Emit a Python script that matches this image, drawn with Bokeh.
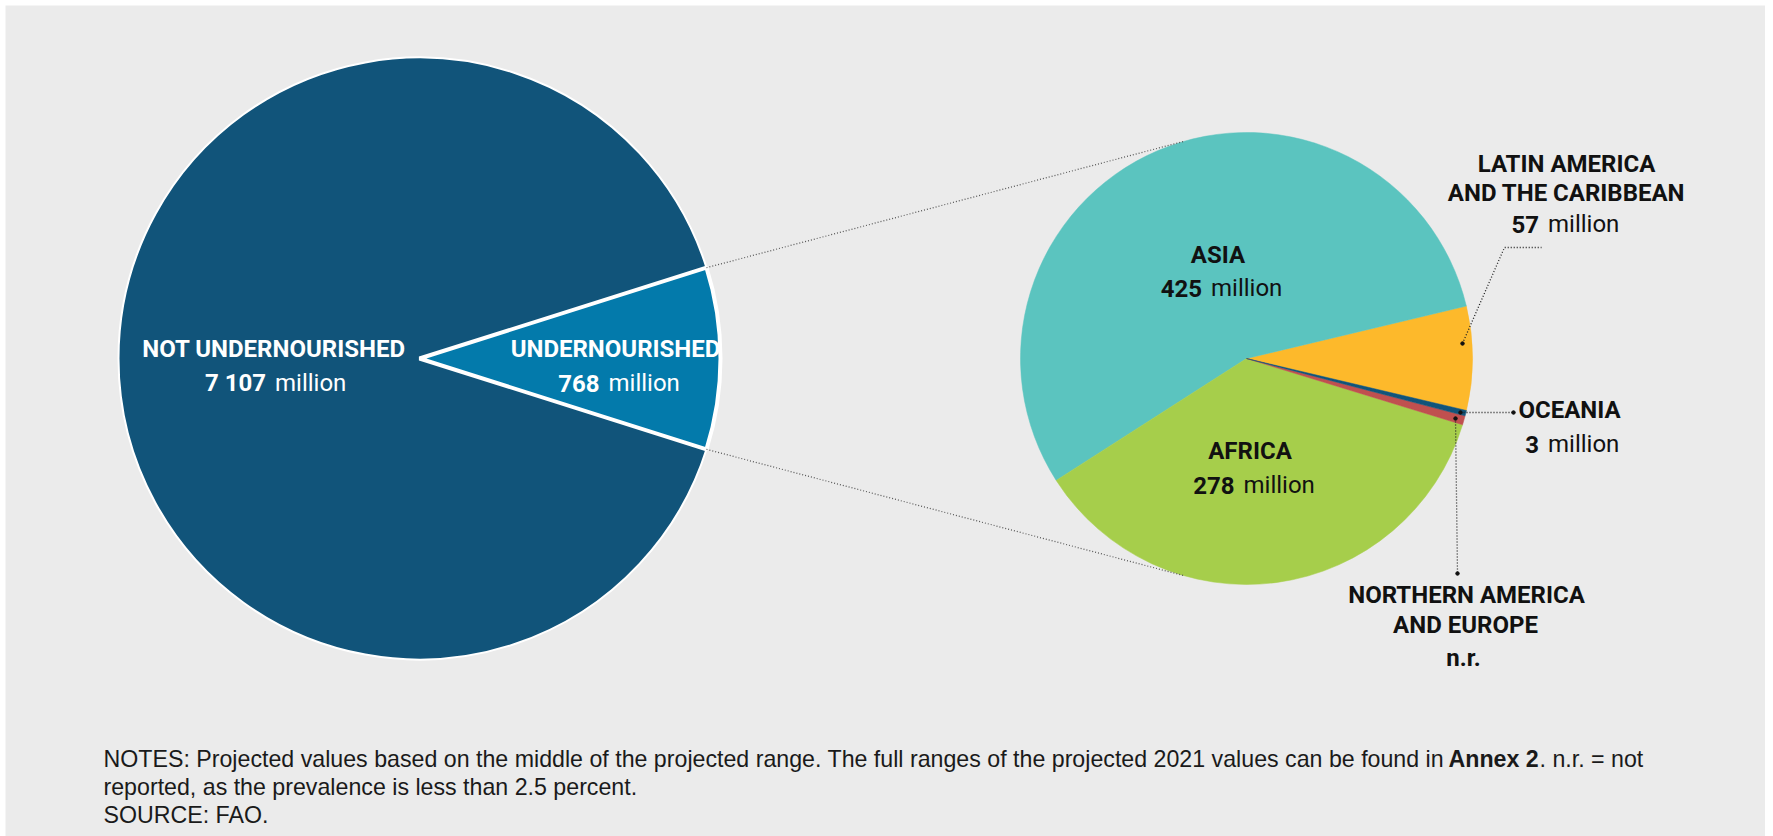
import math
from bokeh.plotting import figure
from bokeh.models import ColumnDataSource, Range1d
from bokeh.core.properties import value
from bokeh.embed import file_html
from bokeh.resources import INLINE

# ---------------- data ----------------
world_labels = ["UNDERNOURISHED", "NOT UNDERNOURISHED"]
world_values = [768, 7107]            # million people
world_colors = ["#037aab", "#11547a"]

region_labels = ["LATIN AMERICA\nAND THE CARIBBEAN", "ASIA", "AFRICA",
                 "NORTHERN AMERICA\nAND EUROPE", "OCEANIA"]
region_values = [57, 425, 278, 5, 3]   # NAE not reported (<2.5%), remainder of 768
region_shown = ["57", "425", "278", None, "3"]
region_colors = ["#fdb92b", "#5bc4bf", "#a6ce4b", "#c0504f", "#11547a"]

notes_lines = [
    "NOTES: Projected values based on the middle of the projected range. The full ranges of the projected 2021 values can be found in",
    "reported, as the prevalence is less than 2.5 percent.",
    "SOURCE: FAO.",
]
notes_bold = "Annex 2"
notes_tail = ". n.r. = not"

# ---------------- layout ----------------
W, H = 1765, 836
ML, MT = 5, 5
BG = "#ebebeb"
COND = "Roboto"
SANS = "Liberation Sans"
TDY = 8.5   # baseline correction for rendered text

p = figure(width=W, height=H, output_backend="svg", toolbar_location=None,
           x_range=Range1d(ML, W), y_range=Range1d(-H, -MT),
           min_border_left=ML, min_border_top=MT, min_border_right=0, min_border_bottom=0,
           background_fill_color=BG, border_fill_color="white",
           outline_line_color=None)
p.axis.visible = False
p.grid.visible = False

def Y(v):
    return -v

def TY(v):
    return -(v - TDY)

# left pie
LC = (419, 358)
LR = 301
tot = sum(world_values)
half = world_values[0] / tot * math.pi
p.wedge(x=LC[0], y=Y(LC[1]), radius=LR, start_angle=half, end_angle=2 * math.pi - half,
        fill_color=world_colors[1], line_color="white", line_width=2)
p.wedge(x=LC[0], y=Y(LC[1]), radius=LR, start_angle=-half, end_angle=half,
        fill_color=world_colors[0], line_color="white", line_width=4)

# right pie
RC = (1246, 358)
RR = 226
rtot = sum(region_values)
a0 = math.radians(-13.3)
rs, re_ = [], []
a = a0
for v in region_values:
    rs.append(a)
    a += v / rtot * 2 * math.pi
    re_.append(a)
src = ColumnDataSource(dict(x=[RC[0]] * 5, y=[Y(RC[1])] * 5, s=rs, e=re_, c=region_colors))
p.wedge(x="x", y="y", radius=RR, start_angle="s", end_angle="e", fill_color="c",
        line_color="c", line_width=0.5, source=src)

# connectors between pies
for ang_l, ang_r in [(half, math.radians(106)), (-half, math.radians(254))]:
    x1 = LC[0] + LR * math.cos(ang_l)
    y1 = LC[1] - LR * math.sin(ang_l)
    x2 = RC[0] + RR * math.cos(ang_r)
    y2 = RC[1] - RR * math.sin(ang_r)
    p.line([x1, x2], [Y(y1), Y(y2)], line_color="#555555", line_width=1.2, line_dash="1 2")

# leader lines
leaders = [
    ([1462, 1504, 1541], [343, 247, 247]),
    ([1460, 1513], [412, 412]),
    ([1455, 1457], [418, 573]),
]
for xs, ys in leaders:
    p.line(xs, [Y(v) for v in ys], line_color="#222222", line_width=1.3, line_dash="1 2")
dots_x = [1462, 1460, 1513, 1455, 1457]
dots_y = [343, 412, 412, 418, 573]
p.scatter(dots_x, [Y(v) for v in dots_y], size=3.5, color="#111111")

# ---------------- labels ----------------
FS = "24px"

def title(x, y, txt, color):
    p.text(x=[x], y=[TY(y)], text=[txt], text_font=value(COND), text_font_size=value(FS),
           text_font_style="bold", text_align="center", text_baseline="alphabetic",
           text_color=color)

def number_line(split, y, num, color, gap=9):
    p.text(x=[split - gap / 2], y=[TY(y)], text=[num], text_font=value(COND),
           text_font_size=value(FS), text_font_style="bold", text_align="right",
           text_baseline="alphabetic", text_color=color)
    p.text(x=[split + gap / 2], y=[TY(y)], text=["million"], text_font=value(COND),
           text_font_size=value(FS), text_font_style="normal", text_align="left",
           text_baseline="alphabetic", text_color=color)

def fmt(v):
    return f"{v:,}".replace(",", " ")

# left pie labels (white)
title(273.5, 357, world_labels[1], "white")
number_line(270, 391, fmt(world_values[1]), "white")
title(615, 357, world_labels[0], "white")
number_line(603.5, 391, fmt(world_values[0]), "white")

INK = "#111111"
# Latin America
la = region_labels[0].split("\n")
title(1566, 172, la[0], INK)
title(1566, 201, la[1], INK)
number_line(1543, 232, region_shown[0], INK)
# Asia
title(1217.5, 263, region_labels[1], INK)
number_line(1206, 296, region_shown[1], INK)
# Africa
title(1249.5, 459, region_labels[2], INK)
number_line(1238.5, 493, region_shown[2], INK)
# Oceania
title(1569, 418, region_labels[4], INK)
number_line(1543, 452, region_shown[4], INK)
# Northern America and Europe
na = region_labels[3].split("\n")
title(1466, 603, na[0], INK)
title(1465, 633, na[1], INK)
title(1463, 666, "n.r.", INK)

# ---------------- notes ----------------
NFS = "23.2px"
NOTE_C = "#1a1a1a"
for i, line in enumerate(notes_lines):
    p.text(x=[103], y=[TY(767 + 28 * i)], text=[line], text_font=value(SANS),
           text_font_size=value(NFS), text_align="left", text_baseline="alphabetic",
           text_color=NOTE_C)
p.text(x=[1448], y=[TY(767)], text=[notes_bold], text_font=value(SANS),
       text_font_size=value(NFS), text_font_style="bold", text_align="left",
       text_baseline="alphabetic", text_color=NOTE_C)
p.text(x=[1539], y=[TY(767)], text=[notes_tail], text_font=value(SANS),
       text_font_size=value(NFS), text_align="left", text_baseline="alphabetic",
       text_color=NOTE_C)

open("out.html", "w").write(file_html(p, INLINE))
